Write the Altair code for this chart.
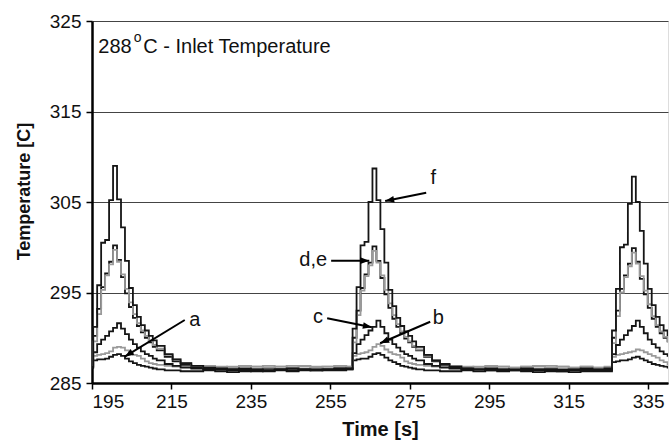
import altair as alt
import pandas as pd
import math

# ---------------- data ----------------
time_s = [195.0, 195.3, 196.3, 197.3, 198.3, 199.3, 200.3, 201.3, 202.3, 203.3, 204.3,
          205.3, 206.3, 207.3, 208.3, 209.3, 210.3, 211.3, 213.3, 215.3, 217.3,
          220, 223, 226, 229, 232, 235, 238, 241, 244, 247, 250, 253, 256, 259,
          260.6, 261.6, 262.6, 263.6, 264.6, 265.6, 266.6, 267.6, 268.6, 269.6, 270.6,
          271.6, 272.6, 273.6, 274.6, 275.6, 276.6, 278.6, 280.6, 282.6,
          285, 288, 291, 294, 297, 300, 303, 306, 309, 312, 315, 318, 321, 324,
          325.9, 326.9, 327.9, 328.9, 329.9, 330.9, 331.9, 332.9, 333.9, 334.9, 335.9,
          336.9, 337.9, 338.9, 339.9, 340.0]

temp_f = [286.8, 291.2, 295.8, 300.5, 300.8, 305.2, 309.0, 305.3, 302.2, 298.5, 295.5,
          293.6, 292.3, 291.4, 290.8, 290.2, 289.7, 289.1, 288.2, 287.6, 287.2,
          286.9, 286.7, 286.6, 286.5, 286.6, 286.5, 286.4, 286.5, 286.6, 286.5, 286.4, 286.5, 286.6, 286.6,
          291.0, 295.6, 300.2, 300.6, 305.0, 308.7, 305.2, 302.0, 298.3, 295.3, 293.5,
          292.2, 291.3, 290.7, 290.2, 289.6, 289.0, 288.1, 287.5, 287.1,
          286.8, 286.6, 286.5, 286.6, 286.5, 286.4, 286.6, 286.5, 286.5, 286.4, 286.5, 286.6, 286.5, 286.6,
          290.8, 295.4, 300.0, 300.3, 304.8, 307.8, 305.0, 301.8, 298.2, 295.4, 293.6,
          292.3, 291.4, 290.8, 290.3, 290.3]

temp_d = [286.7, 290.2, 293.2, 295.6, 297.1, 298.4, 300.2, 298.6, 296.7, 294.9, 293.4,
          292.2, 291.3, 290.6, 290.0, 289.5, 289.0, 288.6, 287.9, 287.4, 287.0,
          286.7, 286.6, 286.5, 286.6, 286.4, 286.5, 286.6, 286.5, 286.4, 286.5, 286.6, 286.5, 286.5, 286.6,
          290.0, 293.0, 295.5, 297.0, 298.3, 300.1, 298.5, 296.6, 294.8, 293.3, 292.1,
          291.2, 290.5, 289.9, 289.5, 289.0, 288.6, 287.9, 287.4, 287.0,
          286.7, 286.6, 286.6, 286.5, 286.4, 286.6, 286.5, 286.4, 286.6, 286.5, 286.5, 286.4, 286.5, 286.5,
          290.0, 293.0, 295.4, 296.9, 298.2, 299.9, 298.4, 296.5, 294.8, 293.3, 292.1,
          291.2, 290.5, 290.0, 289.6, 289.6]

temp_e = [286.9, 289.6, 292.6, 295.3, 296.9, 298.1, 299.7, 298.4, 297.0, 295.4, 293.9,
          292.6, 291.6, 290.8, 290.2, 289.7, 289.2, 288.8, 288.1, 287.6, 287.2,
          286.9, 286.8, 286.8, 286.7, 286.9, 286.8, 286.7, 286.8, 286.9, 286.8, 286.7, 286.8, 286.9, 286.8,
          289.5, 292.5, 295.2, 296.8, 298.0, 299.6, 298.3, 296.9, 295.3, 293.8, 292.5,
          291.5, 290.7, 290.1, 289.6, 289.1, 288.7, 288.0, 287.5, 287.1,
          286.9, 286.8, 286.7, 286.8, 286.8, 286.7, 286.8, 286.9, 286.7, 286.8, 286.7, 286.8, 286.7, 286.8,
          289.4, 292.4, 295.0, 296.7, 297.9, 299.4, 298.2, 296.8, 295.2, 293.7, 292.4,
          291.4, 290.7, 290.1, 289.6, 289.6]

temp_c = [286.8, 288.4, 289.3, 289.8, 290.2, 290.7, 291.1, 291.6, 291.0, 290.4, 289.8,
          289.3, 288.9, 288.5, 288.2, 288.0, 287.7, 287.5, 287.1, 286.9, 286.7,
          286.6, 286.5, 286.5, 286.4, 286.5, 286.3, 286.4, 286.5, 286.4, 286.5, 286.4, 286.5, 286.6, 286.5,
          288.3, 289.3, 289.8, 290.3, 290.8, 291.2, 291.9, 291.2, 290.5, 289.8, 289.3,
          288.9, 288.5, 288.2, 288.0, 287.7, 287.5, 287.1, 286.9, 286.7,
          286.6, 286.5, 286.5, 286.4, 286.5, 286.5, 286.4, 286.5, 286.4, 286.3, 286.4, 286.5, 286.4, 286.4,
          288.2, 289.2, 289.8, 290.3, 290.8, 291.3, 291.9, 291.2, 290.5, 289.8, 289.3,
          288.9, 288.5, 288.2, 288.0, 288.0]

temp_b = [286.9, 288.0, 288.1, 288.2, 288.3, 288.5, 288.9, 289.0, 288.9, 288.6, 288.3,
          288.1, 288.0, 287.7, 287.4, 287.2, 287.1, 287.0, 286.9, 286.8, 286.8,
          286.8, 286.9, 286.7, 286.8, 286.9, 286.8, 286.9, 286.8, 286.7, 286.9, 286.8, 286.8, 286.9, 286.8,
          288.0, 288.2, 288.3, 288.4, 288.6, 289.0, 289.3, 289.1, 288.7, 288.4, 288.2,
          288.1, 287.8, 287.4, 287.2, 287.1, 287.0, 286.9, 286.8, 286.8,
          286.8, 286.7, 286.8, 286.9, 286.8, 286.7, 286.8, 286.8, 286.9, 286.8, 286.7, 286.8, 286.7, 286.7,
          287.9, 288.1, 288.2, 288.3, 288.4, 288.5, 288.7, 288.6, 288.4, 288.2, 288.0,
          287.8, 287.5, 287.3, 287.1, 287.1]

temp_a = [286.7, 287.5, 287.6, 287.6, 287.7, 287.9, 288.1, 288.2, 288.0, 287.7, 287.4,
          287.2, 287.0, 286.9, 286.8, 286.7, 286.6, 286.5, 286.4, 286.4, 286.3,
          286.3, 286.4, 286.3, 286.2, 286.3, 286.4, 286.3, 286.4, 286.3, 286.4, 286.5, 286.4, 286.4, 286.5,
          287.5, 287.6, 287.7, 287.7, 287.9, 288.2, 288.3, 288.1, 287.8, 287.5, 287.3,
          287.1, 286.9, 286.8, 286.7, 286.6, 286.5, 286.4, 286.4, 286.3,
          286.3, 286.4, 286.3, 286.4, 286.3, 286.4, 286.3, 286.2, 286.3, 286.3, 286.2, 286.3, 286.3, 286.3,
          287.3, 287.4, 287.5, 287.5, 287.6, 287.8, 287.9, 287.7, 287.5, 287.3, 287.1,
          287.0, 286.9, 286.8, 286.7, 286.7]

series_names = ["a", "b", "c", "d", "e", "f"]
series_values = [temp_a, temp_b, temp_c, temp_d, temp_e, temp_f]

# annotation labels (text, time, temperature) -- centre of each label
label_text = ["a", "b", "c", "d,e", "f"]
label_time = [220.9, 282.2, 251.9, 250.7, 280.9]
label_temp = [292.0, 292.2, 292.3, 298.6, 307.6]

# arrows (start time/temp -> end time/temp)
arrow_t0 = [218.35, 280.14, 254.2, 255.2, 279.13]
arrow_T0 = [291.96, 291.77, 292.15, 298.51, 306.03]
arrow_t1 = [203.24, 267.54, 265.45, 264.8, 268.80]
arrow_T1 = [287.91, 289.39, 291.15, 298.51, 305.11]

# ---------------- build tables ----------------
rows = []
for name, vals in zip(series_names, series_values):
    for t, v in zip(time_s, vals):
        rows.append({"time": t, "temp": v, "series": name})
df = pd.DataFrame(rows)

PX_X = 576 / 145.0   # px per second
PX_Y = 362 / 40.0    # px per degree
angles = [math.degrees(math.atan2(-(T1 - T0) * PX_Y, (t1 - t0) * PX_X))
          for t0, T0, t1, T1 in zip(arrow_t0, arrow_T0, arrow_t1, arrow_T1)]
arrows = pd.DataFrame({"t0": arrow_t0, "T0": arrow_T0, "t1": arrow_t1, "T1": arrow_T1,
                       "angle": [a % 360 for a in angles]})
labels = pd.DataFrame({"text": label_text, "time": label_time, "temp": label_temp})

FONT = "Liberation Sans"
x_scale = alt.Scale(domain=[195, 340], nice=False, zero=False)
y_scale = alt.Scale(domain=[285, 325], nice=False, zero=False)

x_axis = alt.Axis(values=[195, 215, 235, 255, 275, 295, 315, 335], title="Time [s]",
                  grid=False, domainColor="black", domainWidth=2.5, tickColor="black",
                  tickWidth=1.5, tickSize=6, labelPadding=3, labelFontSize=19,
                  labelFont=FONT, labelColor="#111", titleFont=FONT, titleFontSize=20,
                  titleFontWeight="bold", titleColor="#111", titlePadding=8)
y_axis = alt.Axis(values=[285, 295, 305, 315, 325], title="Temperature [C]",
                  grid=True, gridColor="#444", gridWidth=1.1, domainColor="black",
                  domainWidth=2.5, tickColor="black", tickWidth=1.5, tickSize=6,
                  labelPadding=5, labelFontSize=19, labelFont=FONT, labelColor="#111",
                  titleFont=FONT, titleFontSize=18, titleFontWeight="bold", titleColor="#111",
                  titleX=-68, titleY=170, titleAngle=-90, titleAlign="center",
                  titleBaseline="middle")

base = alt.Chart(df)
lines = base.mark_line(interpolate="step-after", strokeWidth=1.8, clip=True).encode(
    x=alt.X("time:Q", scale=x_scale, axis=x_axis),
    y=alt.Y("temp:Q", scale=y_scale, axis=y_axis),
    color=alt.Color("series:N",
                    scale=alt.Scale(domain=["b", "e", "a", "c", "d", "f"],
                                    range=["#9a9a9a", "#9a9a9a", "#151515", "#151515", "#151515", "#151515"]),
                    legend=None),
    order=alt.Order("time:Q"),
)

arrow_lines = alt.Chart(arrows).mark_rule(color="black", strokeWidth=2).encode(
    x=alt.X("t0:Q", scale=x_scale), y=alt.Y("T0:Q", scale=y_scale),
    x2="t1:Q", y2="T1:Q")
arrow_heads = alt.Chart(arrows).mark_point(
    shape="M0,0L-2,-0.75L-2,0.75Z", filled=True, color="black", opacity=1, size=81,
    strokeWidth=0).encode(
    x=alt.X("t1:Q", scale=x_scale), y=alt.Y("T1:Q", scale=y_scale),
    angle=alt.Angle("angle:Q", scale=None))

label_marks = alt.Chart(labels).mark_text(font=FONT, fontSize=20, color="#111",
                                          baseline="middle", align="center").encode(
    x=alt.X("time:Q", scale=x_scale), y=alt.Y("temp:Q", scale=y_scale), text="text:N")

title_df = pd.DataFrame({"text": ["288", "C - Inlet Temperature"],
                         "time": [196.6, 207.9], "temp": [321.5, 321.5]})
title_main = alt.Chart(title_df).mark_text(font=FONT, fontSize=20, color="#111",
                                           align="left", baseline="alphabetic").encode(
    x=alt.X("time:Q", scale=x_scale), y=alt.Y("temp:Q", scale=y_scale), text="text:N")
sup_df = pd.DataFrame({"text": ["o"], "time": [205.5], "temp": [322.7]})
title_sup = alt.Chart(sup_df).mark_text(font=FONT, fontSize=14, color="#111",
                                        align="left", baseline="alphabetic").encode(
    x=alt.X("time:Q", scale=x_scale), y=alt.Y("temp:Q", scale=y_scale), text="text:N")

chart = alt.layer(lines, arrow_lines, arrow_heads, label_marks, title_main, title_sup).properties(
    width=576, height=362,
    autosize=alt.AutoSizeParams(type="none"),
    padding={"left": 92, "top": 21, "right": 1, "bottom": 63},
).configure_view(stroke="black", strokeWidth=2).configure(background="white")

chart.save("out.html", embed_options={"renderer": "svg", "actions": False})
